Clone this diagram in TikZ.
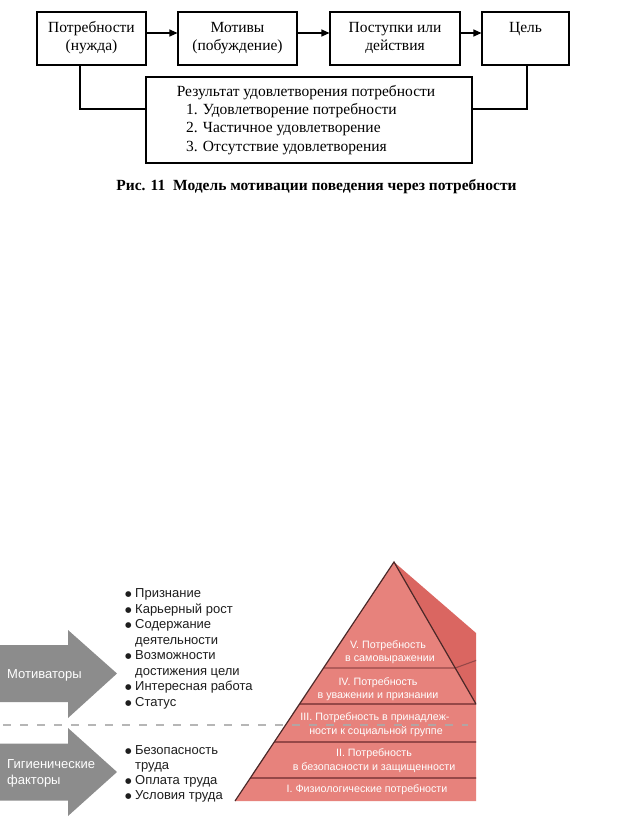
\documentclass[tikz,border=0pt]{standalone}
\usepackage{fontspec}
\setmainfont{Liberation Serif}
\newfontfamily\sansf{Liberation Sans}
\newfontfamily\dejavu{DejaVu Sans}
\usetikzlibrary{arrows.meta}
\definecolor{arrgray}{RGB}{140,140,140}
\definecolor{dashgray}{RGB}{170,170,170}
\definecolor{pfront}{RGB}{231,130,124}
\definecolor{pside}{RGB}{218,102,97}
\definecolor{pband}{RGB}{150,72,72}
\definecolor{pedge}{RGB}{75,40,40}
\definecolor{txtdark}{RGB}{30,30,30}
\newcommand{\bul}{\llap{{\dejavu\fontsize{7.5}{8}\selectfont\raisebox{1pt}{●}}\kern3.6pt}}
\begin{document}
\begin{tikzpicture}[x=1pt,y=-1pt,
  flowbox/.style={draw, line width=1.1pt, inner sep=0pt, minimum height=53pt},
  serift/.style={font=\fontsize{15.5}{18}\selectfont, inner sep=0pt, anchor=base},
  flowarrow/.style={line width=1.1pt, -{Triangle[length=8pt,width=7pt]}},
  conn/.style={line width=1.1pt},
  listt/.style={font=\sansf\fontsize{13}{15}\selectfont, text=txtdark, inner sep=0pt, anchor=base west},
  whitet/.style={font=\sansf\fontsize{13}{15}\selectfont, text=white, inner sep=0pt, anchor=base west},
  pyrt/.style={font=\sansf\fontsize{10.7}{12}\selectfont, text=white, inner sep=0pt, anchor=base}
]
\useasboundingbox (0,0) rectangle (623,817);
\clip (0,0) rectangle (623,817);
\fill[white] (0,0) rectangle (623,817);

% ---------- top flowchart ----------
\node[flowbox, minimum width=109pt] (b1) at (91.5,38.5) {};
\node[flowbox, minimum width=119pt] (b2) at (237.5,38.5) {};
\node[flowbox, minimum width=130pt] (b3) at (395,38.5) {};
\node[flowbox, minimum width=87pt]  (b4) at (525.5,38.5) {};
\node[flowbox, minimum width=326pt, minimum height=86pt] (res) at (309,120) {};

\node[serift] (t1a) at (91.5,32) {Потребности};
\node[serift] (t1b) at (91.5,50) {(нужда)};
\node[serift] (t2a) at (237.5,32) {Мотивы};
\node[serift] (t2b) at (237.5,50) {(побуждение)};
\node[serift] (t3a) at (395,32) {Поступки или};
\node[serift] (t3b) at (395,50) {действия};
\node[serift] (t4a) at (525.5,32) {Цель};

\node[serift] (r0) at (306,96) {Результат удовлетворения потребности};
\node[serift, anchor=base west] (r1) at (186,114) {1. Удовлетворение потребности};
\node[serift, anchor=base west] (r2) at (186,132.5) {2. Частичное удовлетворение};
\node[serift, anchor=base west] (r3) at (186,151) {3. Отсутствие удовлетворения};

\draw[flowarrow] ([yshift=5.5pt]b1.east) -- ([yshift=5.5pt]b2.west);
\draw[flowarrow] ([yshift=5.5pt]b2.east) -- ([yshift=5.5pt]b3.west);
\draw[flowarrow] ([yshift=5.5pt]b3.east) -- ([yshift=5.5pt]b4.west);
\draw[conn] ([xshift=-11.5pt]b1.south) |- ([yshift=11pt]res.west);
\draw[conn] ([xshift=1.5pt]b4.south) |- ([yshift=11pt]res.east);

\node[font=\bfseries\fontsize{15.5}{18}\selectfont, inner sep=0pt, anchor=base] (cap) at (316.5,190.5)
  {Рис. 11\ \ Модель мотивации поведения через потребности};

% ---------- gray arrows ----------
\fill[arrgray] (-5,645) -- (68,645) -- (68,630) -- (117,673.5) -- (68,718) -- (68,702) -- (-5,702) -- cycle;
\fill[arrgray] (-5,743.5) -- (68,743.5) -- (68,728) -- (117,772) -- (68,816) -- (68,800.5) -- (-5,800.5) -- cycle;
\node[whitet] (mot) at (7,678) {Мотиваторы};
\node[whitet] (gig1) at (7,768.5) {Гигиенические};
\node[whitet] (gig2) at (7,784.5) {факторы};

% ---------- bullet lists ----------
\foreach \txt/\yy [count=\i] in {{\bul Признание}/597.5, {\bul Карьерный рост}/613, {\bul Содержание}/628.5,
  {деятельности}/644, {\bul Возможности}/659.5, {достижения цели}/675, {\bul Интересная работа}/690.5, {\bul Статус}/706}
  \node[listt] (m\i) at (135,\yy) {\txt};
\foreach \txt/\yy [count=\i] in {{\bul Безопасность}/754.5, {труда}/769.5, {\bul Оплата труда}/784.5, {\bul Условия труда}/799.5}
  \node[listt] (h\i) at (135,\yy) {\txt};

% ---------- pyramid ----------
\begin{scope}
\clip (0,0) rectangle (476,817);
\fill[pfront] (394,562) -- (235,801) -- (480,801) -- (480,704) -- (476,704) -- cycle;
\fill[pside] (394,562) -- (476,704) -- (480,704) -- (480,630) -- (476,633) -- cycle;
\draw[pband, line width=1.1pt] (323.5,668) -- (455.2,668) -- (480,659);
\draw[pband, line width=1.1pt] (299.5,704) -- (480,704);
\draw[pband, line width=1.1pt] (274.3,742) -- (480,742);
\draw[pband, line width=1.1pt] (250.3,778) -- (480,778);
\draw[pedge, line width=1.2pt] (235,801) -- (394,562) -- (476,704);
\end{scope}

\draw[dashgray, opacity=0.85, line width=1.8pt, dash pattern=on 8pt off 9pt] (3,725) -- (468,725);

\node[pyrt] (p5a) at (388,648.5) {V. Потребность};
\node[pyrt] (p5b) at (390,661) {в самовыражении};
\node[pyrt] (p4a) at (378,685.5) {IV. Потребность};
\node[pyrt] (p4b) at (378,698.5) {в уважении и признании};
\node[pyrt] (p3a) at (375,720.5) {III. Потребность в принадлеж-};
\node[pyrt] (p3b) at (376,734.5) {ности к социальной группе};
\node[pyrt] (p2a) at (374,756.5) {II. Потребность};
\node[pyrt] (p2b) at (374,770.5) {в безопасности и защищенности};
\node[pyrt] (p1)  at (367,792.5) {I. Физиологические потребности};
\end{tikzpicture}
\end{document}
